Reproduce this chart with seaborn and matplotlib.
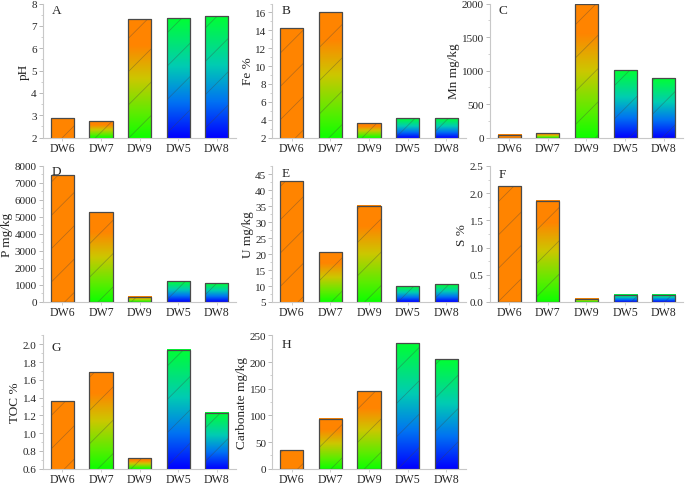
import numpy as np
import pandas as pd
import matplotlib
matplotlib.use("Agg")
import matplotlib.pyplot as plt
import seaborn as sns
from matplotlib.colors import LinearSegmentedColormap
from matplotlib.patches import Rectangle
from matplotlib.ticker import MultipleLocator

# ---------------- data ----------------
sites = ["DW6", "DW7", "DW9", "DW5", "DW8"]
ph = [2.86, 2.72, 7.30, 7.37, 7.42]
fe = [14.3, 16.0, 3.6, 4.13, 4.13]
mn = [45, 60, 1995, 1005, 883]
p = [7460, 5280, 300, 1230, 1090]
u = [42.9, 20.6, 35.2, 9.9, 10.6]
s = [2.13, 1.86, 0.06, 0.13, 0.135]
toc = [1.36, 1.69, 0.72, 1.94, 1.23]
carbonate = [35, 94, 146, 235, 205]

panels = [
    ("A", "pH", ph, (2, 8), 1, 0.5),
    ("B", "Fe %", fe, (2, 17), 2, 1),
    ("C", "Mn mg/kg", mn, (0, 2000), 500, 250),
    ("D", "P mg/kg", p, (0, 8000), 1000, 500),
    ("E", "U mg/kg", u, (5, 47.6), 5, 2.5),
    ("F", "S %", s, (0, 2.5), 0.5, 0.25),
    ("G", "TOC %", toc, (0.6, 2.1), 0.2, 0.1),
    ("H", "Carbonate mg/kg", carbonate, (0, 250), 50, 25),
]

# ---------------- style ----------------
sns.set_theme(style="white")
plt.rcParams["font.family"] = ["Liberation Serif", "DejaVu Serif"]
plt.rcParams["hatch.linewidth"] = 0.5

orange = (1.0, 0.52, 0.0)
cm_solid = LinearSegmentedColormap.from_list("solid", [orange, orange])
cm_og = LinearSegmentedColormap.from_list(
    "og", [(0.0, (0.05, 1.0, 0.0)), (0.2, (0.35, 0.93, 0.0)),
           (0.5, (0.80, 0.78, 0.0)), (0.78, orange), (1.0, orange)])
cm_bg = LinearSegmentedColormap.from_list(
    "bg", [(0.0, (0.0, 0.0, 1.0)), (0.3, (0.0, 0.45, 0.95)),
           (0.6, (0.0, 0.80, 0.70)), (1.0, (0.0, 1.0, 0.2))])
bar_cmaps = [cm_solid, cm_og, cm_og, cm_bg, cm_bg]

fig = plt.figure(figsize=(6.85, 4.85), dpi=100)
col_left = [0.0628, 0.3978, 0.7153]
row_bottom = [0.7144, 0.3753, 0.0315]
row_height = [0.2763, 0.2804, 0.2750]
width = 0.2818
letter_y = [0.995, 0.995, 0.995, 1.01, 0.99, 0.985, 0.96, 0.98]

grid = np.linspace(0, 1, 256).reshape(-1, 1)

for i, (letter, ylabel, vals, ylim, major, minor) in enumerate(panels):
    r, c = divmod(i, 3)
    ax = fig.add_axes([col_left[c], row_bottom[r], width, row_height[r]])
    df = pd.DataFrame({"site": sites, "value": vals})
    sns.barplot(data=df, x="site", y="value", ax=ax, width=0.6,
                color="white", edgecolor="#4a4a4a", linewidth=0.9,
                saturation=1, zorder=3)
    ax.set_ylim(*ylim)
    ax.set_xlim(-0.5, 4.5)
    y0 = ylim[0]
    for patch, cmap in zip(ax.patches, bar_cmaps):
        x = patch.get_x()
        w = patch.get_width()
        top = patch.get_y() + patch.get_height()
        patch.set_facecolor("none")
        ax.imshow(grid, cmap=cmap, origin="lower", aspect="auto",
                  extent=[x, x + w, y0, top], zorder=2,
                  interpolation="bilinear")
        hatch = Rectangle((x, y0), w, top - y0, fill=False, hatch="/",
                          edgecolor=(0.25, 0.25, 0.25, 0.4), linewidth=0,
                          zorder=2.5)
        ax.add_patch(hatch)
    ax.set_ylim(*ylim)
    ax.set_xlim(-0.5, 4.5)
    ax.yaxis.set_major_locator(MultipleLocator(major))
    ax.yaxis.set_minor_locator(MultipleLocator(minor))
    ax.set_xlabel("")
    ax.set_ylabel(ylabel, fontsize=9.5, labelpad=1)
    for sp in ["top", "right"]:
        ax.spines[sp].set_visible(False)
    for sp in ["left", "bottom"]:
        ax.spines[sp].set_color("#c8c8c8")
        ax.spines[sp].set_linewidth(0.8)
    ax.tick_params(axis="y", which="major", direction="out", length=3,
                   width=0.6, color="#b0b0b0", labelsize=8, pad=1.5,
                   left=True)
    ax.tick_params(axis="x", which="major", direction="out", length=2,
                   width=0.6, color="#c8c8c8", labelsize=8.5, pad=1,
                   bottom=True)
    ax.tick_params(axis="y", which="minor", direction="out", length=1.5,
                   width=0.6, color="#c8c8c8", left=True)
    ax.text(0.045, letter_y[i], letter, transform=ax.transAxes, fontsize=9.5,
            va="top", ha="left", zorder=5)

fig.savefig("out.png", dpi=100)
